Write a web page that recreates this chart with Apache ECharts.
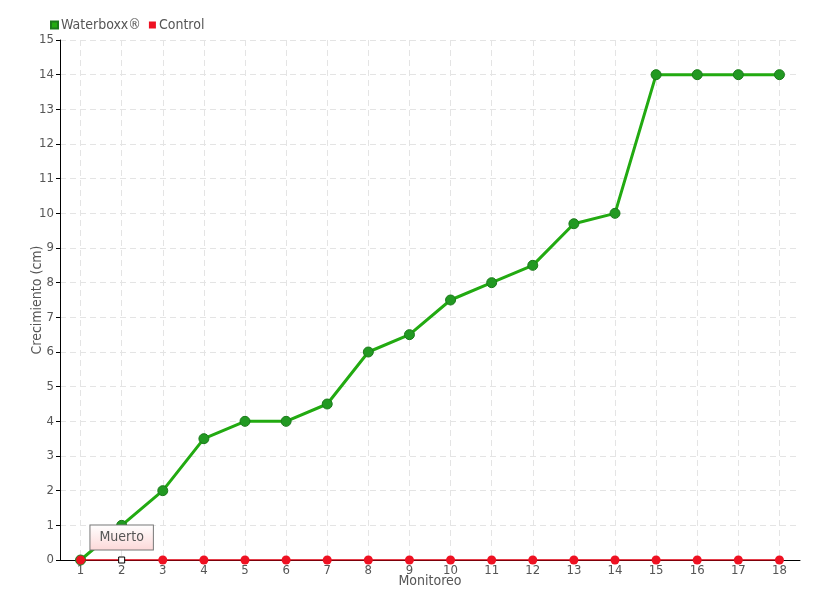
<!DOCTYPE html>
<html><head><meta charset="utf-8">
<script src="https://cdn.jsdelivr.net/npm/echarts@6/dist/echarts.min.js"></script>
<style>html,body{margin:0;padding:0;background:#fff}#c{width:820px;height:600px}</style>
</head><body><div id="c"></div>
<script>
var categories = ['1','2','3','4','5','6','7','8','9','10','11','12','13','14','15','16','17','18'];
var waterboxx = [0, 1, 2, 3.5, 4, 4, 4.5, 6, 6.5, 7.5, 8, 8.5, 9.7, 10, 14, 14, 14, 14];
var control = [0, 0, 0, 0, 0, 0, 0, 0, 0, 0, 0, 0, 0, 0, 0, 0, 0, 0];
var deadIndex = 1;
var deadLabel = 'Muerto';
var yTicks = {min: 0, max: 15, interval: 1};

var FONT = "'DejaVu Sans Condensed','Liberation Sans Narrow',sans-serif";
var chart = echarts.init(document.getElementById('c'));
var controlData = control.map(function (v, i) {
  if (i === deadIndex) {
    return {
      value: v,
      symbol: 'rect', symbolSize: 6,
      itemStyle: {color: '#fff', borderColor: '#000', borderWidth: 1},
      label: {
        show: true, position: 'top', distance: 7,
        formatter: deadLabel,
        fontFamily: FONT, fontSize: 14, color: '#555',
        padding: [5, 9, 5, 9],
        borderColor: '#777', borderWidth: 1,
        backgroundColor: new echarts.graphic.LinearGradient(0, 0, 0, 1, [
          {offset: 0, color: '#ffffff'}, {offset: 1, color: '#fcd8d8'}
        ])
      }
    };
  }
  return v;
});
chart.setOption({
  animation: false,
  textStyle: {fontFamily: FONT},
  legend: {
    left: 45, top: 13, itemWidth: 7, itemHeight: 7, itemGap: 8,
    icon: 'rect',
    textStyle: {fontFamily: FONT, fontSize: 14, color: '#555', padding: [0, 0, 0, -2]},
    data: [{name: 'Waterboxx®', itemStyle: {color: '#22aa11'}}, {name: 'Control', itemStyle: {color: '#ee1122'}}]
  },
  grid: {left: 60, right: 20, top: 40, bottom: 40},
  xAxis: {
    type: 'category', data: categories, boundaryGap: true,
    name: 'Monitoreo', nameLocation: 'middle', nameGap: 14, nameMoveOverlap: false,
    nameTextStyle: {fontFamily: FONT, fontSize: 14, color: '#555'},
    axisLine: {lineStyle: {color: '#000'}},
    axisTick: {alignWithLabel: true, length: 3, lineStyle: {color: '#999'}},
    axisLabel: {fontFamily: FONT, fontSize: 13, color: '#555', margin: 4},
    splitLine: {show: true, alignWithLabel: true, lineStyle: {color: '#e4e4e4', type: [6, 4]}}
  },
  yAxis: {
    type: 'value', min: yTicks.min, max: yTicks.max, interval: yTicks.interval,
    name: 'Crecimiento (cm)', nameLocation: 'middle', nameGap: 16, nameMoveOverlap: false,
    nameTextStyle: {fontFamily: FONT, fontSize: 14, color: '#555'},
    axisLine: {show: true, lineStyle: {color: '#000'}},
    axisTick: {show: true, length: 4, inside: false, lineStyle: {color: '#000'}},
    axisLabel: {fontFamily: FONT, fontSize: 13, color: '#555', margin: 6},
    splitLine: {show: true, lineStyle: {color: '#e4e4e4', type: [6, 4]}}
  },
  series: [
    {
      name: 'Waterboxx®', type: 'line', data: waterboxx,
      symbol: 'circle', symbolSize: 10, z: 2,
      lineStyle: {color: '#22aa11', width: 3},
      itemStyle: {color: '#229922', borderColor: '#1a7a1a', borderWidth: 1}
    },
    {
      name: 'Control', type: 'line', data: controlData,
      symbol: 'circle', symbolSize: 9, z: 3,
      lineStyle: {color: '#dd0011', width: 1.5},
      itemStyle: {color: '#ee1122', borderColor: '#ee1122', borderWidth: 0}
    }
  ]
});
</script></body></html>
